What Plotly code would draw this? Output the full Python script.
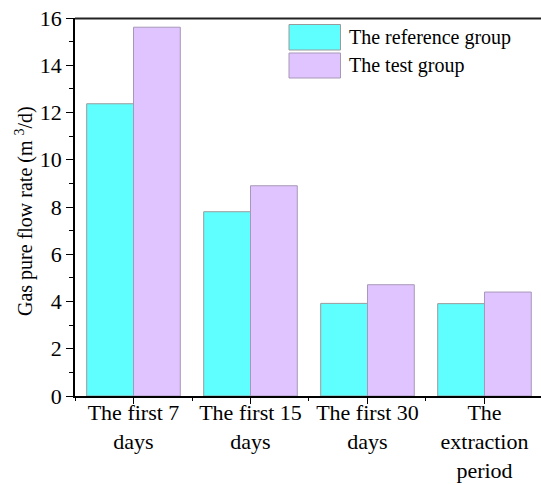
import plotly.graph_objects as go

categories = ["The first 7<br>days", "The first 15<br>days", "The first 30<br>days", "The<br>extraction<br>period"]
reference_group = [12.37, 7.80, 3.92, 3.91]
test_group = [15.61, 8.90, 4.71, 4.40]
series_names = ["The reference group", "The test group"]
y_ticks = [0, 2, 4, 6, 8, 10, 12, 14, 16]
y_title = "Gas pure flow rate (m <sup>3</sup>/d)"

ref_color = "#5FFFFF"
test_color = "#E0C4FF"
font_family = "Liberation Serif, Times New Roman, serif"

W, H = 541, 485
L, T, R = 75, 18, 0
B = H - 396

xpos = list(range(len(categories)))

fig = go.Figure()
fig.add_trace(go.Bar(x=xpos, y=reference_group, name=series_names[0],
                     marker=dict(color=ref_color, line=dict(color="#9A9A9A", width=1)),
                     offsetgroup=0, showlegend=False))
fig.add_trace(go.Bar(x=xpos, y=test_group, name=series_names[1],
                     marker=dict(color=test_color, line=dict(color="#A898B8", width=1)),
                     offsetgroup=1, showlegend=False))

pw = W - L - R
ph = H - T - B
def px(x):
    return (x - L) / pw
def py(y):
    return (H - B - y) / ph

# top frame line
fig.add_shape(type="line", xref="paper", yref="paper", x0=0, x1=1, y0=py(18.5), y1=py(18.5),
              line=dict(color="#222222", width=2), layer="above")

# Legend drawn manually
legend_items = [(series_names[0], ref_color, "#9A9A9A", 24.5, 50),
                (series_names[1], test_color, "#A898B8", 53, 78)]
for name, col, lc, y0, y1 in legend_items:
    fig.add_shape(type="rect", xref="paper", yref="paper",
                  x0=px(289), x1=px(340.5), y0=py(y1), y1=py(y0),
                  fillcolor=col, line=dict(color=lc, width=1))
    fig.add_annotation(xref="paper", yref="paper", x=px(347), y=py((y0 + y1) / 2),
                       text=name, showarrow=False, xanchor="left", yanchor="middle",
                       font=dict(family=font_family, size=20, color="black"))

fig.add_annotation(xref="paper", yref="paper", x=px(24), y=py(211),
                   text=y_title, textangle=-90, showarrow=False,
                   xanchor="center", yanchor="middle",
                   font=dict(family=font_family, size=20, color="black"))

fig.update_layout(
    width=W, height=H,
    margin=dict(l=L, r=R, t=T, b=B),
    paper_bgcolor="white", plot_bgcolor="white",
    barmode="group", bargap=0.2, bargroupgap=0,
    font=dict(family=font_family, size=20, color="black"),
    xaxis=dict(
        type="linear", range=[-0.5, 3.483], automargin=False,
        tickvals=xpos, ticktext=categories,
        showgrid=False, zeroline=False,
        showline=True, linecolor="black", linewidth=2,
        ticks="outside", ticklen=6, tickwidth=1, tickcolor="black",
        minor=dict(tickvals=[-0.5, 0.5, 1.5, 2.5], ticks="outside", ticklen=3, tickcolor="black", tickwidth=1),
        tickfont=dict(family=font_family, size=22, color="black"),
        ticklabelstandoff=-10,
    ),
    yaxis=dict(
        range=[0, 16], tickvals=y_ticks, automargin=False,
        showgrid=False, zeroline=False,
        showline=True, linecolor="black", linewidth=1.5,
        ticks="outside", ticklen=7, tickwidth=1, tickcolor="black",
        minor=dict(dtick=1, tick0=0, ticks="outside", ticklen=4, tickcolor="black", tickwidth=1),
        tickfont=dict(family=font_family, size=22, color="black"),
    ),
)

fig.write_html("out.html", config={"displayModeBar": False},
               post_script="document.body.style.margin='0';document.body.style.overflow='hidden';")
